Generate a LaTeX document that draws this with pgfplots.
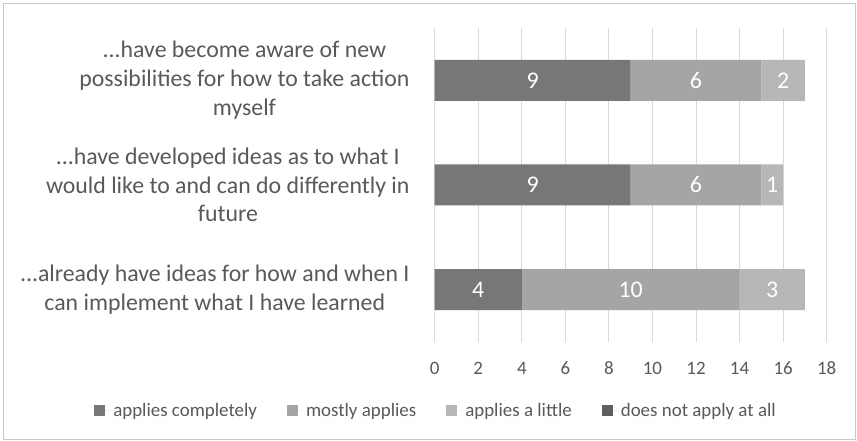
\documentclass[border=0pt]{standalone}
\usepackage{pgfplots}
\pgfplotsset{compat=1.18}
\usepackage{fontspec}
\setmainfont{Carlito}
\newcommand\ddd{...}
\definecolor{cA}{HTML}{777777}
\definecolor{cB}{HTML}{A5A5A5}
\definecolor{cC}{HTML}{B7B7B7}
\definecolor{cD}{HTML}{5F5F5F}
\definecolor{txt}{HTML}{595959}
\definecolor{gridc}{HTML}{D9D9D9}
\definecolor{bord}{HTML}{C8C8C8}
\begin{document}
\begin{tikzpicture}
\useasboundingbox (0,0) rectangle (857bp,441bp);
\fill[white] (0,0) rectangle (857bp,441bp);
\draw[bord, line width=1bp] (3bp,1.5bp) rectangle (855.5bp,437bp);
\begin{axis}[
  at={(434.7bp,99bp)}, anchor=south west,
  scale only axis, width=392bp, height=314bp,
  xbar stacked, bar width=41bp,
  xmin=0, xmax=18, ymin=-0.5, ymax=2.5,
  xtick={0,2,4,6,8,10,12,14,16,18}, ytick={0,1,2},
  yticklabels={{\ddd already have ideas for how and when I\\can implement what I have learned},
               {\ddd have developed ideas as to what I\\would like to and can do differently in\\future},
               {\ddd have become aware of new\\possibilities for how to take action\\myself}},
  yticklabel style={align=center, font=\fontsize{23.9}{28.8}\selectfont, text=txt, inner sep=0pt, xshift=-25bp},
  xticklabel style={font=\fontsize{19}{22}\selectfont, text=txt, anchor=base, yshift=-32bp},
  /pgf/number format/assume math mode=true,
  xmajorgrids, grid style={gridc, line width=1bp},
  axis line style={draw=none}, major tick length=0pt,
  point meta=explicit,
  nodes near coords={\pgfmathprintnumber{\pgfplotspointmeta}},
  every node near coord/.style={anchor=center, text=white, font=\fontsize{24}{24}\selectfont},
  legend style={at={(axis description cs:0.0034,-0.218)}, anchor=center, draw=none, fill=none,
    font=\fontsize{19}{22}\selectfont, text=txt,
    /tikz/every even column/.append style={column sep=28bp}},
  legend columns=4,
  legend image code/.code={\fill[#1] (0bp,-5.5bp) rectangle (11bp,5.5bp); \path (0bp,0bp) -- (17bp,0bp);},
]
\addplot[fill=cA, draw=none] coordinates {(4,0) [4] (9,1) [9] (9,2) [9]};
\addplot[fill=cB, draw=none] coordinates {(10,0) [10] (6,1) [6] (6,2) [6]};
\addplot[fill=cC, draw=none] coordinates {(3,0) [3] (1,1) [1] (2,2) [2]};
\addplot[fill=cD, draw=none, nodes near coords={}] coordinates {(0,0) [0] (0,1) [0] (0,2) [0]};
\legend{applies completely, mostly applies, applies a little, does not apply at all}
\end{axis}
\end{tikzpicture}
\end{document}
